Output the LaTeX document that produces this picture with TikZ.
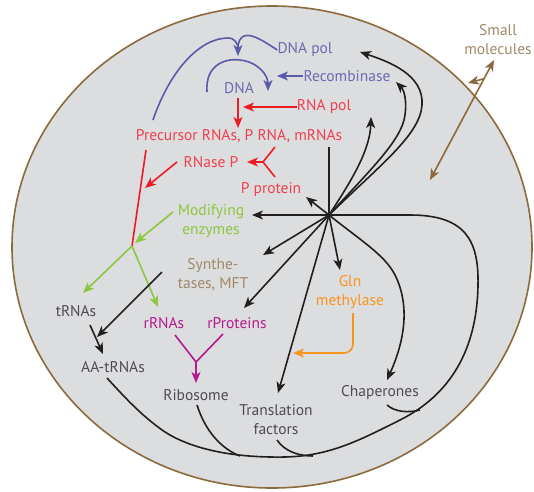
\documentclass[tikz,border=0pt]{standalone}
\usepackage{fontspec}
\setmainfont{PT Sans}
\usetikzlibrary{arrows.meta}
\definecolor{cellfill}{HTML}{DCDDDE}
\definecolor{cellrim}{HTML}{8C6A3D}
\definecolor{bluec}{HTML}{5A5AAA}
\definecolor{bluet}{HTML}{6A6AB2}
\definecolor{redc}{HTML}{ED1C24}
\definecolor{redt}{HTML}{EF4050}
\definecolor{greenc}{HTML}{8DC63F}
\definecolor{brownt}{HTML}{A08868}
\definecolor{brownc}{HTML}{8C6A3D}
\definecolor{orangec}{HTML}{F7941D}
\definecolor{magc}{HTML}{B5198F}
\definecolor{grayt}{HTML}{4D4D4F}
\definecolor{blackc}{HTML}{231F20}
\begin{document}
\begin{tikzpicture}[x=1pt,y=-1pt,
  lbl/.style={font=\fontsize{15.5}{19}\selectfont, inner sep=0pt, align=center},
  tip/.style={-{Stealth[length=11pt,width=9pt,inset=3pt]}},
  ln/.style={line width=1.6pt, blackc},
  arr/.style={ln, tip},
]
\useasboundingbox (0,0) rectangle (534,491);
\draw[fill=cellfill, draw=cellrim, line width=1.6pt] (272,247) ellipse [x radius=260, y radius=241];

% labels
\node[lbl, bluet] (dnapol) at (305,50) {DNA pol};
\node[lbl, bluet] (recomb) at (347,76) {Recombinase};
\node[lbl, bluet] (dna) at (239,88) {DNA};
\node[lbl, redt] (rnapol) at (324,107) {RNA pol};
\node[lbl, redt] (prec) at (239,136) {Precursor RNAs, P RNA, mRNAs};
\node[lbl, redt] (rnasep) at (211,162) {RNase P};
\node[lbl, redt] (pprot) at (271,190) {P protein};
\node[lbl, greenc] (modif) at (211,221) {Modifying\\enzymes};
\node[lbl, brownt] (synth) at (213,275) {Synthe-\\tases, MFT};
\node[lbl, orangec] (gln) at (350,292) {Gln\\methylase};
\node[lbl, grayt] (trna) at (76,311) {tRNAs};
\node[lbl, magc] (rrna) at (164,323) {rRNAs};
\node[lbl, magc] (rprot) at (237,323) {rProteins};
\node[lbl, grayt] (aatrna) at (113,367) {AA-tRNAs};
\node[lbl, grayt] (ribo) at (196,395) {Ribosome};
\node[lbl, grayt] (trans) at (276,420) {Translation\\factors};
\node[lbl, grayt] (chap) at (380,393) {Chaperones};
\node[lbl, brownt] (small) at (498,40) {Small\\molecules};

% coordinates
\coordinate (hub) at (329,215);
\coordinate (redjn) at (132,246);
\coordinate (magjn) at (196,362);
\coordinate (rnjn) at (263,162);
\coordinate (smA) at (430,180);
\coordinate (smB) at (494,60);
\coordinate (smC) at (483,79);
\coordinate (smD) at (468,83);

% blue
\draw[ln, bluec, tip] (153,120) .. controls (170,70) and (200,38) .. (228,38) .. controls (235,38) and (238,44) .. (238,56);
\draw[ln, bluec] (dnapol.west) .. controls (265,42) and (252,33) .. (244,36) .. controls (240,38) and (238,42) .. (238,48);
\draw[ln, bluec, tip] (207,92) .. controls (205,65) and (225,58) .. (240,60) .. controls (258,62) and (268,75) .. (268,91);
\draw[ln, bluec, tip] (recomb.west) -- (277,76);

% red
\draw[ln, redc, tip] (238,98) -- (238,128);
\draw[ln, redc, tip] (rnapol.west) -- (243,107);
\draw[ln, redc] (275,147) -- (rnjn) -- (275,177);
\draw[ln, redc, tip] (rnjn) -- (247,162);
\draw[ln, redc, tip] (177,162) -- (145,188);
\draw[ln, redc] (146,150) -- (redjn);

% green
\draw[ln, greenc, tip] (173,212) -- (135,243);
\draw[ln, greenc, tip] (redjn) -- (83,293);
\draw[ln, greenc, tip] (redjn) -- (158,307);

% black left
\draw[arr] (162,272) -- (97,337);
\draw[arr] (90,325) -- (103,354);

% magenta
\draw[ln, magc] (175,335) -- (magjn) -- (223,334);
\draw[ln, magc, tip] (magjn) -- (196,383);

% hub
\draw[ln] (hub) -- (329,147);
\draw[arr] (hub) -- (306,197);
\draw[arr] (hub) -- (252,215);
\draw[arr] (hub) -- (263,255);
\draw[arr] (hub) -- (244,308);
\draw[arr] (hub) -- (278,393);
\draw[arr] (hub) -- (340,270);
\draw[arr] (hub) .. controls (352,180) and (370,150) .. (371,117);
\draw[arr] (hub) .. controls (370,170) and (402,140) .. (405,115) .. controls (407,100) and (404,90) .. (396,82);
\draw[arr] (hub) .. controls (380,165) and (420,135) .. (422,105) .. controls (424,75) and (390,62) .. (360,52);
\draw[arr] (hub) .. controls (360,240) and (385,255) .. (395,275) .. controls (410,305) and (405,340) .. (387,380);
\draw[ln] (hub) -- (410,215) .. controls (465,215) and (479,240) .. (478,285) .. controls (477,350) and (450,395) .. (400,420) .. controls (360,440) and (330,456) .. (285,457) .. controls (230,458) and (190,448) .. (165,432) .. controls (140,415) and (120,392) .. (107,378);
\draw[ln] (197,405) .. controls (205,430) and (220,448) .. (240,456);
\draw[ln] (277,440) .. controls (285,452) and (300,456) .. (313,456);
\draw[ln] (387,405) .. controls (395,412) and (408,413) .. (420,410);

% orange
\draw[ln, orangec, tip, rounded corners=9pt] (353,313) -- (353,353) -- (293,353);

% brown
\draw[ln, brownc, {Stealth[length=11pt,width=9pt,inset=3pt]}-{Stealth[length=11pt,width=9pt,inset=3pt]}] (smA) -- (smB);
\draw[ln, brownc, tip] (smC) -- (smD);
\end{tikzpicture}
\end{document}
